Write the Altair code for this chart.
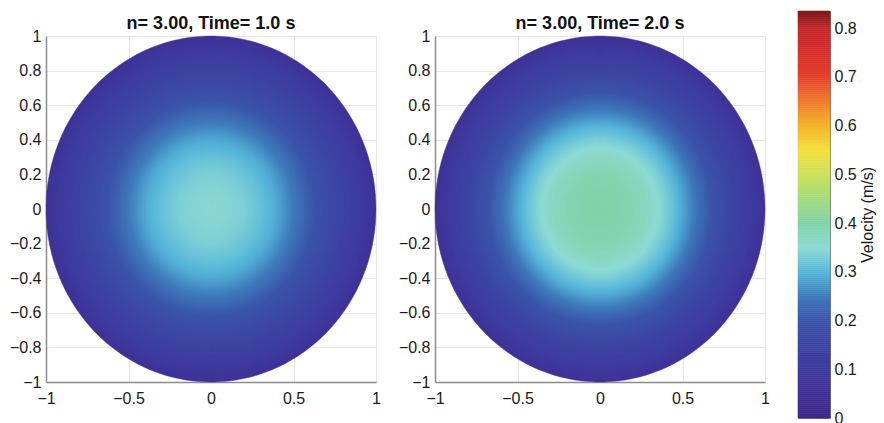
import numpy as np
import pandas as pd
import altair as alt

# ---- data ----
panel_titles = ["n= 3.00, Time= 1.0 s", "n= 3.00, Time= 2.0 s"]
radius = [0.0, 0.1, 0.2, 0.3, 0.4, 0.5, 0.6, 0.7, 0.8, 0.9, 1.0]
vel_t1 = [0.345, 0.343, 0.335, 0.315, 0.290, 0.250, 0.210, 0.175, 0.145, 0.110, 0.060]
vel_t2 = [0.400, 0.398, 0.390, 0.370, 0.335, 0.290, 0.235, 0.190, 0.150, 0.115, 0.060]
x_ticks = [-1, -0.5, 0, 0.5, 1]
y_ticks = [-1, -0.8, -0.6, -0.4, -0.2, 0, 0.2, 0.4, 0.6, 0.8, 1]
cbar_ticks = [0, 0.1, 0.2, 0.3, 0.4, 0.5, 0.6, 0.7, 0.8]
cbar_max = 0.835
cmap_values = [0.0, 0.05, 0.10, 0.15, 0.20, 0.25, 0.30, 0.35, 0.40, 0.45, 0.50,
               0.55, 0.60, 0.65, 0.70, 0.75, 0.80, 0.835]
cmap_colors = ["#3e2a8a", "#3f2f96", "#3e3a9e", "#3d44a2", "#3a54aa", "#3e7cbc",
               "#56b6da", "#8edad4", "#80d4a8", "#a2dc7c", "#cde25a", "#f2df3a",
               "#f5b428", "#ef7a2a", "#e4412c", "#d92e2a", "#c4262a", "#7c1a18"]

# ---- disc field as nested filled discs, outermost first ----
NR, NP = 90, 72
theta = np.linspace(np.pi, 0, NP)
recs = []
for title, prof in zip(panel_titles, [vel_t1, vel_t2]):
    for k in range(NR):
        rk = 1 - k / NR
        v = float(np.interp(rk, radius, prof))
        for t in theta:
            recs.append(dict(panel=title, ring=k, x=float(rk * np.cos(t)),
                             y=float(rk * np.sin(t)), y2=float(-rk * np.sin(t)), v=v))
df = pd.DataFrame(recs)

# colour bar steps
NSTEP = 200
edges = np.linspace(0, cbar_max, NSTEP + 1)
cbar_df = pd.DataFrame({"lo": edges[:-1], "hi": edges[1:], "v": (edges[:-1] + edges[1:]) / 2})

color_scale = alt.Scale(domain=cmap_values, range=cmap_colors, interpolate="rgb", clamp=True)


def panel(title):
    return alt.Chart(df).transform_filter(alt.datum.panel == title).mark_area(
        strokeWidth=0.4, interpolate="linear"
    ).encode(
        x=alt.X("x:Q", scale=alt.Scale(domain=[-1, 1], nice=False, zero=False),
                axis=alt.Axis(values=x_ticks, format="~g", title=None, labelPadding=8)),
        y=alt.Y("y:Q", stack=None, scale=alt.Scale(domain=[-1, 1], nice=False, zero=False),
                axis=alt.Axis(values=y_ticks, format="~g", title=None, labelPadding=5)),
        y2="y2:Q",
        detail="ring:O",
        color=alt.Color("v:Q", scale=color_scale, legend=None),
        stroke=alt.Stroke("v:Q", scale=color_scale, legend=None),
    ).properties(width=330, height=346,
                 title=alt.TitleParams(title, fontSize=18, fontWeight="bold", offset=-5, color="#111111"))


cbar = alt.Chart(cbar_df).mark_rect(strokeWidth=0.6).encode(
    y=alt.Y("lo:Q", scale=alt.Scale(domain=[0, cbar_max], nice=False, zero=False),
            axis=alt.Axis(orient="right", values=cbar_ticks, format="~g", title="Velocity (m/s)",
                          titleAngle=270, titleBaseline="top", titleFontSize=16,
                          titleFontWeight="normal", titleColor="#1a1a1a", titlePadding=3,
                          labelFontSize=16, labelPadding=4, domain=False, grid=False)),
    y2="hi:Q",
    color=alt.Color("v:Q", scale=color_scale, legend=None),
    stroke=alt.Stroke("v:Q", scale=color_scale, legend=None),
).properties(width=32, height=407, view=alt.ViewBackground(stroke="#777777", strokeWidth=1))

spacer = alt.Chart(cbar_df).transform_filter("false").mark_point().encode(
    x=alt.value(0), y=alt.value(0)
).properties(width=10, height=4)

panels = alt.hconcat(panel(panel_titles[0]), panel(panel_titles[1]), spacing=17)
left = alt.vconcat(spacer, panels, spacing=0)
chart = alt.hconcat(left, cbar, spacing=27).resolve_scale(
    color="shared"
).properties(
    padding={"left": 1, "top": 2, "right": 0, "bottom": 0}
).configure(font="Liberation Sans").configure_view(stroke=None).configure_axis(
    domainColor="#8c8c8c", domainWidth=1.5, gridColor="#e6e6e6", gridWidth=1,
    ticks=False, labelFontSize=16, labelColor="#1a1a1a", labelFlush=False, labelOverlap=False,
)

chart.save("out.html", embed_options={"renderer": "svg", "actions": False})
